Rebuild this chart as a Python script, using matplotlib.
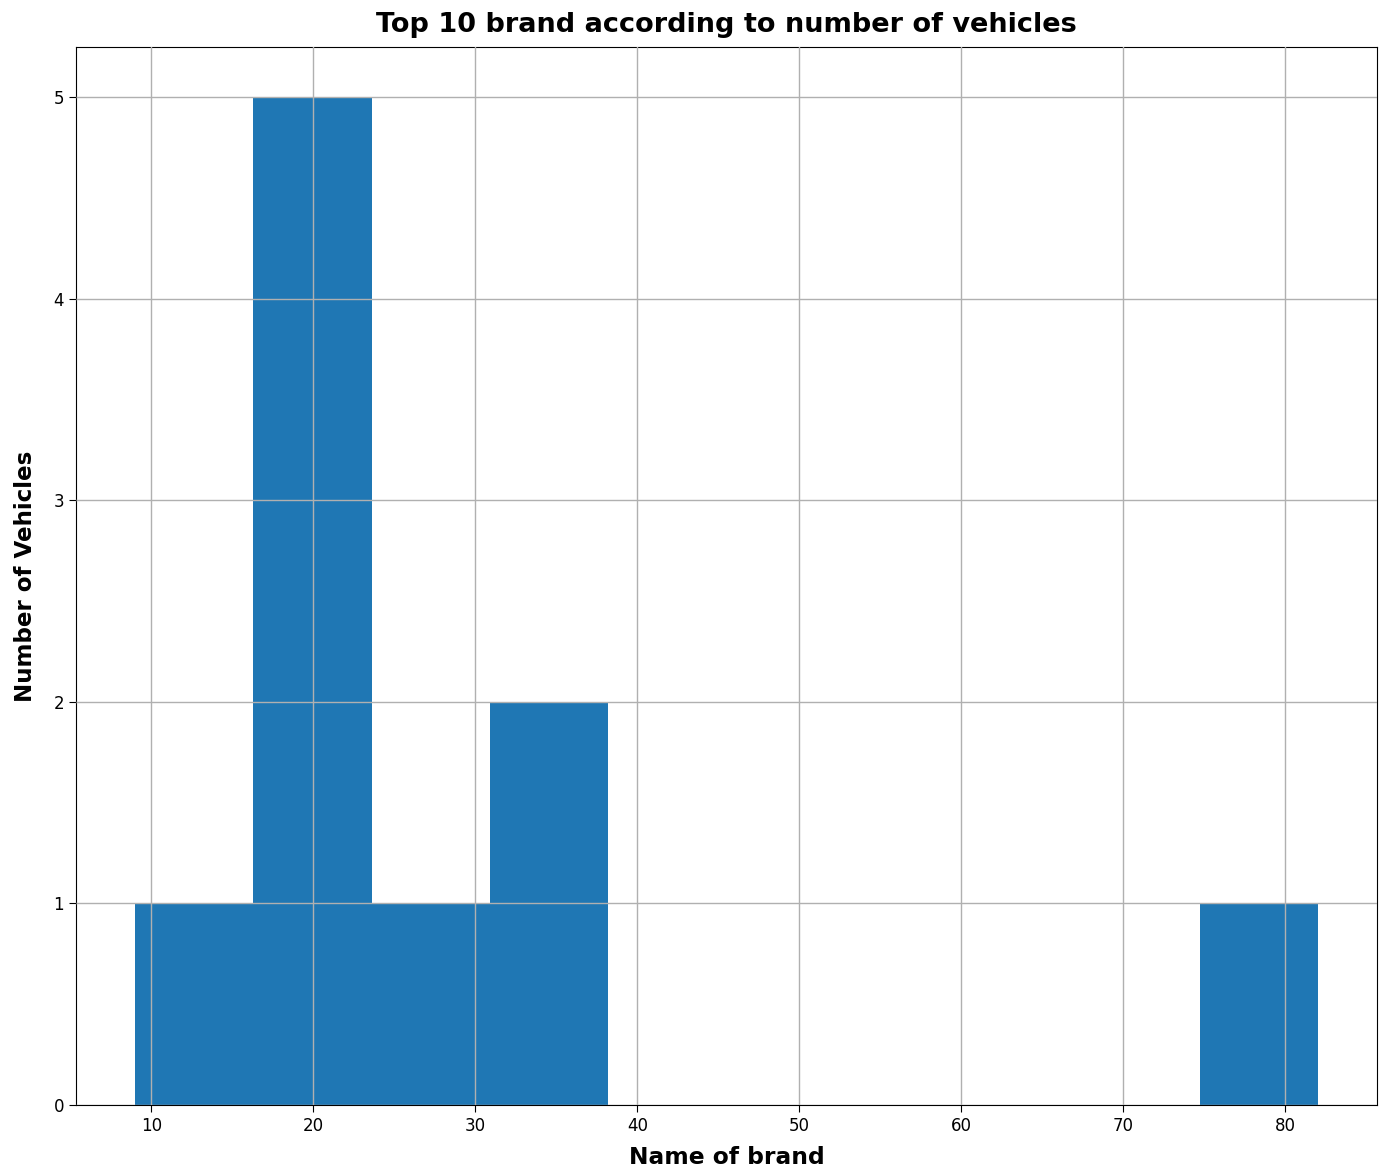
import matplotlib
matplotlib.use("Agg")
import matplotlib.pyplot as plt

# number of vehicles per brand for the top 10 brands
VEHICLE_COUNTS = [9, 17, 18, 20, 21, 22, 26, 32, 35, 82]
N_BINS = 10

TITLE = "Top 10 brand according to number of vehicles"
X_LABEL = "Name of brand"
Y_LABEL = "Number of Vehicles"


def main():
    fig = plt.figure(figsize=(13.85, 11.7), dpi=100)
    ax = fig.add_axes([0.0549, 0.0556, 0.9393, 0.9042])
    ax.hist(VEHICLE_COUNTS, bins=N_BINS, color="#1f77b4", zorder=2)
    ax.grid(True, color="#b0b0b0", linewidth=1.0, zorder=3)
    ax.set_axisbelow(False)
    ax.set_yticks(range(0, 6))
    ax.tick_params(labelsize=12, length=5)
    ax.set_title(TITLE, fontsize=19.5, fontweight="bold", pad=11)
    ax.set_xlabel(X_LABEL, fontsize=16.8, fontweight="bold", labelpad=8)
    ax.set_ylabel(Y_LABEL, fontsize=16.6, fontweight="bold", labelpad=12)
    fig.savefig("out.png", dpi=100)
    plt.close(fig)


if __name__ == "__main__":
    main()
